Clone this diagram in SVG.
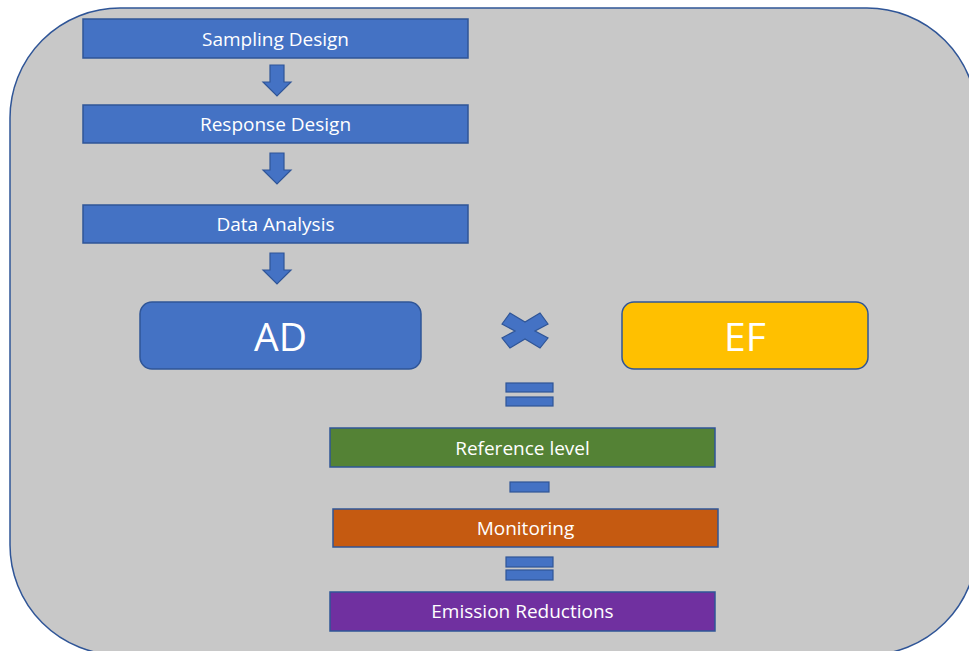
<svg xmlns="http://www.w3.org/2000/svg" width="969" height="651" viewBox="0 0 969 651">
  <style>
    .frame { fill: #C8C8C8; stroke: #2F5597; stroke-width: 1.5; }
    .box { stroke: #2F5597; stroke-width: 1.5; }
    .blue { fill: #4472C4; }
    .green { fill: #548235; }
    .orange { fill: #C55A11; }
    .purple { fill: #7030A0; }
    .gold { fill: #FFC000; }
    .sym { fill: #4472C4; stroke: #2F5597; stroke-width: 1.2; }
    .label { fill: #FFFFFF; font-family: "Open Sans", "Noto Sans", "Liberation Sans", sans-serif; font-size: 19px; text-anchor: middle; dominant-baseline: central; }
    .big { font-size: 39px; }
  </style>
  <defs>
    <path id="down-arrow" d="M -7 0 H 7 V 17 H 14 L 0 31 L -14 17 H -7 Z"/>
  </defs>

  <!-- background panel -->
  <rect class="frame" x="10" y="8" width="967" height="647" rx="110" ry="110"/>

  <!-- workflow steps -->
  <g id="sampling-design">
    <rect class="box blue" x="83" y="19" width="385" height="39"/>
    <text class="label" x="275.5" y="38.5">Sampling Design</text>
  </g>
  <g id="response-design">
    <rect class="box blue" x="83" y="105" width="385" height="38"/>
    <text class="label" x="275.5" y="124">Response Design</text>
  </g>
  <g id="data-analysis">
    <rect class="box blue" x="83" y="205" width="385" height="38"/>
    <text class="label" x="275.5" y="224">Data Analysis</text>
  </g>

  <!-- equation terms -->
  <g id="ad">
    <rect class="box blue" x="140" y="302" width="281" height="67" rx="12" ry="12"/>
    <text class="label big" x="280.5" y="335">AD</text>
  </g>
  <g id="ef">
    <rect class="box gold" x="622" y="302" width="246" height="67" rx="12" ry="12"/>
    <text class="label big" x="745" y="335">EF</text>
  </g>
  <g id="reference-level">
    <rect class="box green" x="330" y="428" width="385" height="39"/>
    <text class="label" x="522.5" y="447.5">Reference level</text>
  </g>
  <g id="monitoring">
    <rect class="box orange" x="333" y="509" width="385" height="38"/>
    <text class="label" x="525.5" y="528">Monitoring</text>
  </g>
  <g id="emission-reductions">
    <rect class="box purple" x="330" y="592" width="385" height="39"/>
    <text class="label" x="522.5" y="611">Emission Reductions</text>
  </g>

  <!-- arrows and operators -->
  <g id="connectors">
    <use href="#down-arrow" class="sym" x="277" y="65"/>
    <use href="#down-arrow" class="sym" x="277" y="153"/>
    <use href="#down-arrow" class="sym" x="277" y="253"/>
    <!-- multiply -->
    <polygon class="sym" points="502,324 510,313 525,322 540,313 548,324 535,331 548,338 540,348 525,339 510,348 502,338 515,331"/>
    <!-- equals -->
    <rect class="sym" x="506" y="383" width="47" height="9"/>
    <rect class="sym" x="506" y="397" width="47" height="9"/>
    <!-- minus -->
    <rect class="sym" x="510" y="482" width="39" height="10"/>
    <!-- equals -->
    <rect class="sym" x="506" y="557" width="47" height="10"/>
    <rect class="sym" x="506" y="570" width="47" height="10"/>
  </g>
</svg>
